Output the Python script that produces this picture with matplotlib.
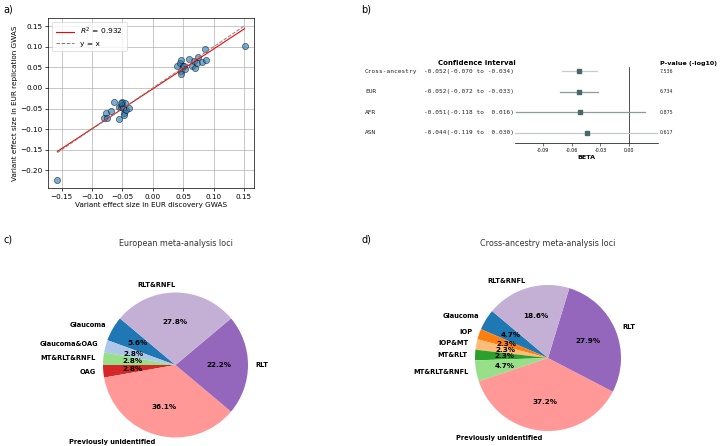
import matplotlib
matplotlib.use('Agg')
import matplotlib.pyplot as plt
import matplotlib.transforms as mtransforms
import numpy as np

# --- a) replication scatter
disc_beta = [0.040, 0.044, 0.047, 0.049, 0.047, 0.047, 0.051, 0.053, 0.059,
             0.064, 0.068, 0.070, 0.073, 0.075, 0.081, 0.086, 0.088, 0.151,
             -0.157, -0.081, -0.077, -0.075, -0.069, -0.064, -0.056, -0.053,
             -0.055, -0.051, -0.050, -0.049, -0.047, -0.047, -0.046, -0.044,
             -0.039, -0.053]
repl_beta = [0.053, 0.061, 0.069, 0.053, 0.041, 0.035, 0.053, 0.045, 0.071,
             0.053, 0.065, 0.049, 0.061, 0.075, 0.063, 0.094, 0.068, 0.102,
             -0.224, -0.073, -0.061, -0.073, -0.055, -0.034, -0.045, -0.045,
             -0.075, -0.033, -0.041, -0.049, -0.061, -0.065, -0.037, -0.053,
             -0.049, -0.037]
r2_label = '$R^2$ = 0.932'

# --- b) forest plot
groups = ['Cross-ancestry', 'EUR', 'AFR', 'ASN']
beta = [-0.052, -0.052, -0.051, -0.044]
ci_low = [-0.070, -0.072, -0.118, -0.119]
ci_high = [-0.034, -0.033, 0.016, 0.030]
pval_log10 = ['7.536', '6.734', '0.875', '0.617']
forest_ticks = [-0.09, -0.06, -0.03, 0.00]

# --- c) / d) pies
eur_labels = ['Glaucoma', 'Glaucoma&OAG', 'MT&RLT&RNFL', 'OAG',
              'Previously unidentified', 'RLT', 'RLT&RNFL']
eur_counts = [2, 1, 1, 1, 13, 8, 10]
cross_labels = ['Glaucoma', 'IOP', 'IOP&MT', 'MT&RLT', 'MT&RLT&RNFL',
                'Previously unidentified', 'RLT', 'RLT&RNFL']
cross_counts = [2, 1, 1, 1, 2, 16, 12, 8]

tab20 = plt.get_cmap('tab20').colors
cat_colors = {'Glaucoma': tab20[0], 'Glaucoma&OAG': tab20[1], 'IOP': tab20[2],
              'IOP&MT': tab20[3], 'MT&RLT': tab20[4], 'MT&RLT&RNFL': tab20[5],
              'OAG': tab20[6], 'Previously unidentified': tab20[7],
              'RLT': tab20[8], 'RLT&RNFL': tab20[9]}

W, H = 720, 446
fig = plt.figure(figsize=(7.2, 4.46), dpi=100)


def px_axes(x0, y0, x1, y1):
    return fig.add_axes([x0 / W, 1 - y1 / H, (x1 - x0) / W, (y1 - y0) / H])


# panel a
ax = px_axes(48, 18, 254, 188)
x = np.array(disc_beta)
y = np.array(repl_beta)
slope, icpt = np.polyfit(x, y, 1)
xs = np.array([x.min(), x.max()])
ax.scatter(x, y, s=20, color='tab:blue', alpha=0.6, edgecolor='black',
           linewidth=0.5, zorder=3)
ax.plot(xs, slope * xs + icpt, color='red', lw=0.8, label=r2_label, zorder=4)
ax.plot(xs, xs, color='gray', ls='--', lw=0.7, label='y = x', zorder=4)
ax.grid(True, lw=0.5, color='#b0b0b0')
ax.set_axisbelow(True)
ax.tick_params(labelsize=5.2, width=0.5, length=2.5, pad=1.5)
for s in ax.spines.values():
    s.set_linewidth(0.5)
ax.set_xticks([-0.15, -0.10, -0.05, 0.00, 0.05, 0.10, 0.15])
ax.set_yticks([-0.20, -0.15, -0.10, -0.05, 0.00, 0.05, 0.10, 0.15])
ax.set_xlabel('Variant effect size in EUR discovery GWAS', fontsize=5.2, labelpad=1.5)
ax.set_ylabel('Variant effect size in EUR replication GWAS', fontsize=5.2, labelpad=1.5)
leg = ax.legend(loc='upper left', fontsize=5.4, frameon=True, handlelength=2.5,
                borderpad=0.5, labelspacing=0.5)
leg.get_frame().set_linewidth(0.5)

# panel b
bx = px_axes(515, 66.7, 658, 143.3)
rows = np.arange(len(groups))
line_cols = ['#c9cccc', '#8e9b9b', '#8e9b9b', '#c3c9c9']
for i in rows:
    bx.plot([ci_low[i], ci_high[i]], [i, i], color=line_cols[i], lw=0.9, zorder=2)
bx.scatter(beta, rows, marker='s', s=7, color='#4a6868', zorder=3)
bx.axvline(0, color='#333333', lw=0.6, zorder=1)
bx.set_xlim(min(ci_low), max(ci_high))
bx.set_ylim(3.5, -0.21)
bx.set_yticks([])
bx.set_xticks(forest_ticks)
bx.set_xticklabels(['%.2f' % t for t in forest_ticks])
bx.tick_params(axis='x', labelsize=3.4, width=0.4, length=2, pad=1.5)
for side in ['left', 'right', 'top']:
    bx.spines[side].set_visible(False)
bx.spines['bottom'].set_linewidth(0.5)
bx.set_xlabel('BETA', fontsize=4.6, fontweight='bold', labelpad=1.5)

tr = mtransforms.blended_transform_factory(fig.transFigure, bx.transData)
for i, g in enumerate(groups):
    ci_txt = '%.3f(%.3f to %6.3f)' % (beta[i], ci_low[i], ci_high[i])
    fig.text(365 / W, i, g, transform=tr, family='DejaVu Sans Mono',
             fontsize=4.4, va='center', color='#222222')
    fig.text(424 / W, i, ci_txt, transform=tr, family='DejaVu Sans Mono',
             fontsize=4.4, va='center', color='#222222')
    fig.text(660 / W, i, pval_log10[i], transform=tr, fontsize=3.4,
             va='center', color='#222222')
fig.text(477 / W, 1 - 63 / H, 'Confidence interval', fontsize=5,
         fontweight='bold', ha='center', va='center')
fig.text(660 / W, 1 - 63 / H, 'P-value (-log10)', fontsize=4.6,
         fontweight='bold', ha='left', va='center')


# panels c and d
def draw_pie(cx, cy, r, labels, counts, title):
    half = 1.25 * r
    pa = px_axes(cx - half, cy - half, cx + half, cy + half)
    wedges, texts, autotexts = pa.pie(
        counts, labels=labels, colors=[cat_colors[l] for l in labels],
        autopct='%1.1f%%', startangle=140,
        textprops={'fontsize': 4.8, 'fontweight': 'bold'})
    for t in autotexts:
        t.set_fontsize(5.2)
    fig.text(cx / W, 1 - 244 / H, title, fontsize=5.8,
             ha='center', va='center', color='#333333')
    return pa


draw_pie(175.5, 365, 72.5, eur_labels, eur_counts, 'European meta-analysis loci')
draw_pie(548, 358, 73, cross_labels, cross_counts, 'Cross-ancestry meta-analysis loci')

# panel letters
for lx, ly, lt in [(3, 10, 'a)'), (361, 10, 'b)'), (3, 240, 'c)'), (361, 240, 'd)')]:
    fig.text(lx / W, 1 - ly / H, lt, fontsize=7, ha='left', va='center')

fig.savefig('out.png', dpi=100)
